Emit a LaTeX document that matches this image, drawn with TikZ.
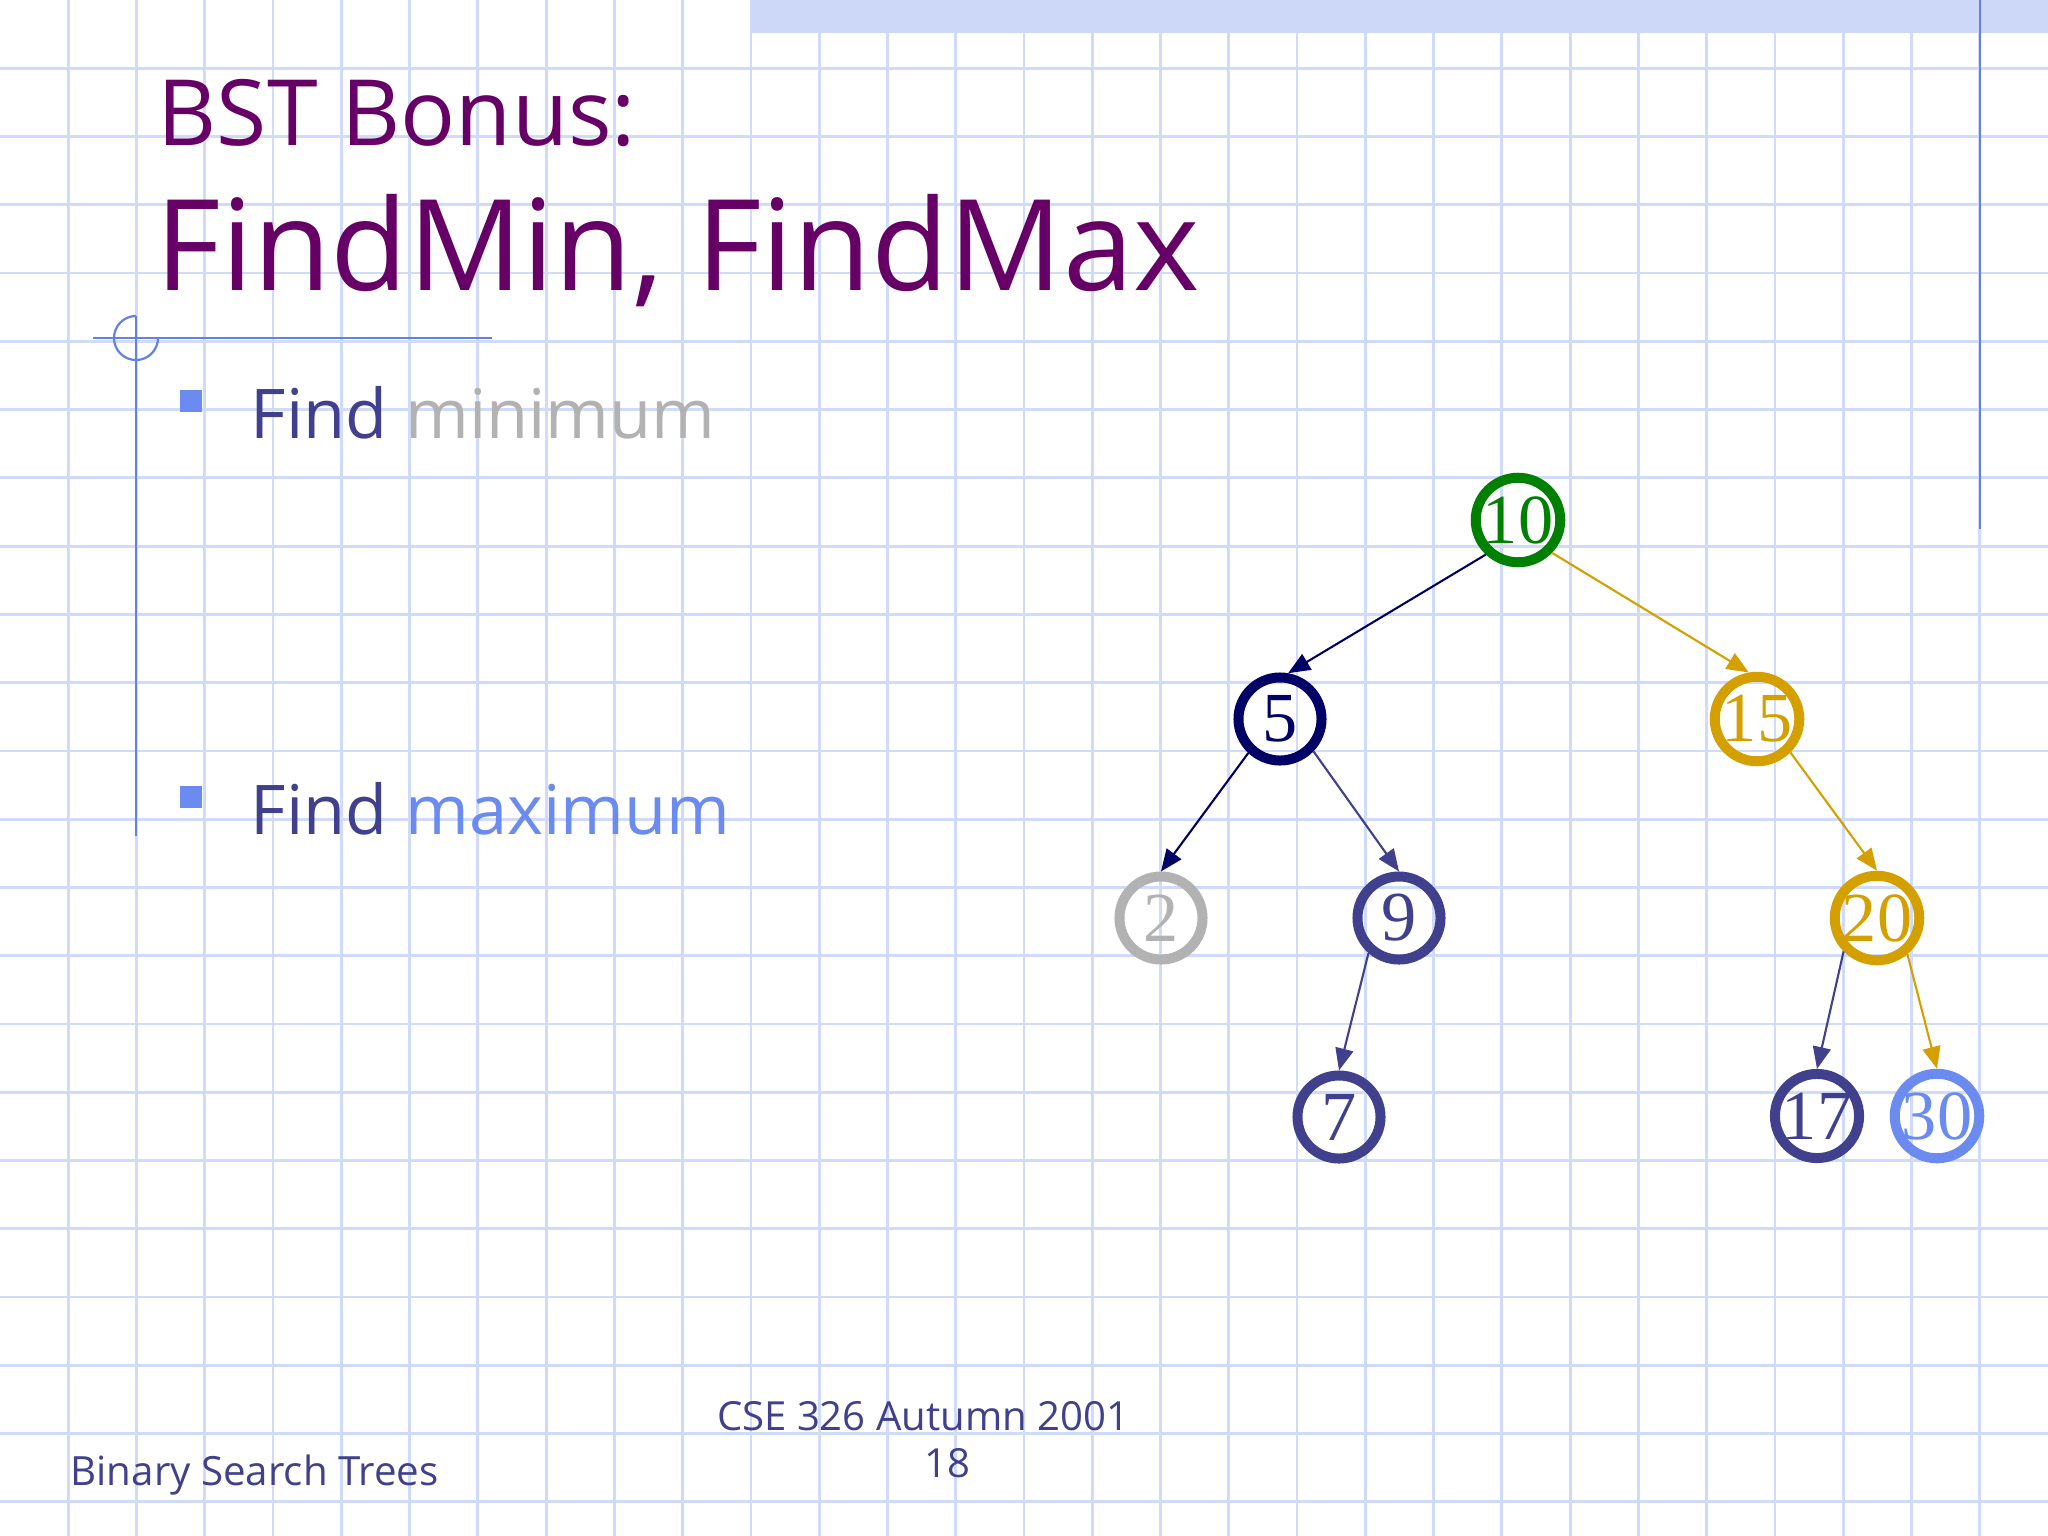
\documentclass[tikz,border=0pt]{standalone}
\usepackage{fontspec}
\setmainfont{Open Sans}
\newfontfamily\numfont{Liberation Serif}
\usetikzlibrary{arrows.meta}
\definecolor{gridc}{RGB}{208,218,250}
\definecolor{stripc}{RGB}{205,215,247}
\definecolor{decoc}{RGB}{100,128,230}
\definecolor{titlec}{RGB}{102,0,102}
\definecolor{textc}{RGB}{64,64,140}
\definecolor{grayc}{RGB}{178,178,178}
\definecolor{lightc}{RGB}{107,139,240}
\definecolor{greenc}{RGB}{0,128,0}
\definecolor{navyc}{RGB}{0,0,102}
\definecolor{goldc}{RGB}{212,160,0}
\definecolor{slatec}{RGB}{64,64,140}
\begin{document}
\begin{tikzpicture}[x=0.01cm,y=-0.01cm,
  treenode/.style={circle, draw, line width=0.1cm, minimum size=0.83cm, inner sep=0pt, font=\numfont\fontsize{20}{20}\selectfont},
  edge/.style={line width=0.6pt, -{Triangle[length=0.22cm,width=0.18cm]}},
  lbl/.style={inner sep=0pt, anchor=base west},
  bullet/.style={fill=lightc, minimum size=0.22cm, inner sep=0pt},
  deco/.style={decoc, line width=0.022cm}]
\useasboundingbox (0,0) rectangle (2048,1536);
\fill[white] (0,0) rectangle (2048,1536);
% grid
\foreach \k in {1,...,29} \draw[gridc, line width=0.028cm] ({68.267*\k},0) -- ({68.267*\k},1536);
\foreach \k in {1,...,22} \draw[gridc, line width=0.028cm] (0,{68.267*\k}) -- (2048,{68.267*\k});
% top strip and right rule
\fill[stripc] (751,0) rectangle (2048,33);
\draw[decoc, line width=0.025cm] (1980,0) -- (1980,529);
% left decoration
\draw[deco] (93,338) -- (492,338);
\draw[deco] (136,316) -- (136,836);
\draw[deco] (136,316) arc[start angle=90, end angle=360, radius=0.22cm];
% title
\node[lbl, text=titlec, font=\fontsize{26}{30}\selectfont] (t1) at (157,145) {BST Bonus:};
\node[lbl, text=titlec, font=\fontsize{36}{40}\selectfont] (t2) at (155,290) {FindMin, FindMax};
% bullets
\node[bullet] (s1) at (191,401) {};
\node[bullet] (s2) at (191,797) {};
\node[lbl, font=\fontsize{19.5}{22}\selectfont] (b1) at (250,438) {\textcolor{textc}{Find} \textcolor{grayc}{minimum}};
\node[lbl, font=\fontsize{19.5}{22}\selectfont] (b2) at (250,834) {\textcolor{textc}{Find} \textcolor{lightc}{maximum}};
% footer
\node[lbl, text=textc, font=\fontsize{11.45}{13}\selectfont] (f1) at (70,1485) {Binary Search Trees};
\node[anchor=base, inner sep=0pt, text=textc, font=\fontsize{11.4}{13}\selectfont] (f2) at (923,1430) {CSE 326 Autumn 2001};
\node[anchor=base, inner sep=0pt, text=textc, font=\fontsize{11.4}{13}\selectfont] (f3) at (947,1477) {18};
% tree
\node[treenode, draw=greenc, text=greenc] (n10) at (1518,520) {\raisebox{-0.04cm}{10}};
\node[treenode, draw=navyc, text=navyc] (n5) at (1280,719) {\raisebox{-0.04cm}{5}};
\node[treenode, draw=goldc, text=goldc] (n15) at (1757,719) {\raisebox{-0.04cm}{15}};
\node[treenode, draw=grayc, text=grayc] (n2) at (1161,918) {\raisebox{-0.04cm}{2}};
\node[treenode, draw=slatec, text=slatec] (n9) at (1399,918) {\raisebox{-0.04cm}{9}};
\node[treenode, draw=goldc, text=goldc] (n20) at (1877,918) {\raisebox{-0.04cm}{20}};
\node[treenode, draw=slatec, text=slatec] (n7) at (1339,1117) {\raisebox{-0.04cm}{7}};
\node[treenode, draw=slatec, text=slatec] (n17) at (1817,1116) {\raisebox{-0.04cm}{17}};
\node[treenode, draw=lightc, text=lightc] (n30) at (1937,1116) {\raisebox{-0.04cm}{30}};
\draw[edge, navyc] (n10.227) -- (n5.80);
\draw[edge, goldc] (n10.-44) -- (n15.100);
\draw[edge, navyc] (n5.227) -- (n2.north);
\draw[edge, slatec] (n5.-44) -- (n9.north);
\draw[edge, slatec] (n9.229) -- (n7.north);
\draw[edge, goldc] (n15.-45) -- (n20.north);
\draw[edge, slatec] (n20.225) -- (n17.north);
\draw[edge, goldc] (n20.-50) -- (n30.north);
\end{tikzpicture}
\end{document}
